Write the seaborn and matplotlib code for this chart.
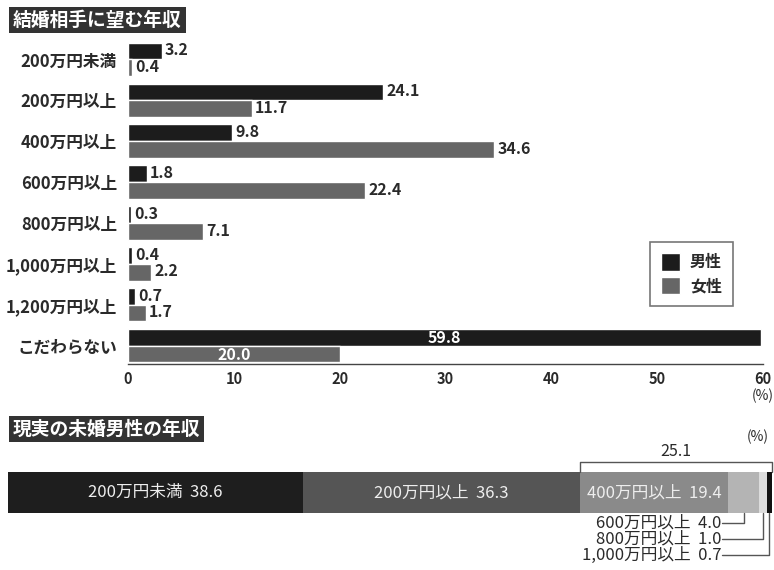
import matplotlib
matplotlib.use("Agg")
import matplotlib.pyplot as plt
import seaborn as sns
import pandas as pd

# ---- data ----
categories = ["200万円未満", "200万円以上", "400万円以上", "600万円以上",
              "800万円以上", "1,000万円以上", "1,200万円以上", "こだわらない"]
male = [3.2, 24.1, 9.8, 1.8, 0.3, 0.4, 0.7, 59.8]
female = [0.4, 11.7, 34.6, 22.4, 7.1, 2.2, 1.7, 20.0]
series_names = ["男性", "女性"]
x_ticks = [0, 10, 20, 30, 40, 50, 60]

real_labels = ["200万円未満", "200万円以上", "400万円以上", "600万円以上", "800万円以上", "1,000万円以上"]
real_values = [38.6, 36.3, 19.4, 4.0, 1.0, 0.7]
bracket_value = 25.1

sns.set_style("white")
plt.rcParams["font.family"] = ["Noto Sans CJK JP", "DejaVu Sans"]

fig = plt.figure(figsize=(7.74, 5.70), dpi=100)
txt = "#2a2a2a"

# ---- top chart ----
ax = fig.add_axes([128 / 774, 1 - 364 / 570, (763 - 128) / 774, (364 - 41) / 570])
df = pd.DataFrame({
    "cat": categories * 2,
    "value": male + female,
    "sex": [series_names[0]] * len(categories) + [series_names[1]] * len(categories),
})
colors = {"男性": "#1c1c1c", "女性": "#666666"}
sns.barplot(data=df, y="cat", x="value", hue="sex", orient="h", palette=colors,
            order=categories, hue_order=series_names, ax=ax, width=0.82, legend=True)
ax.set_xlim(0, 60)
ax.set_ylim(7.45, -0.45)
ax.set_xlabel("")
ax.set_ylabel("")
for s in ["top", "right", "left"]:
    ax.spines[s].set_visible(False)
ax.spines["bottom"].set_color("#444444")
ax.spines["bottom"].set_linewidth(1.0)
ax.set_xticks(x_ticks)
ax.tick_params(axis="x", direction="in", length=5, width=1, color="#444444",
               labelsize=10.5, pad=5, labelcolor=txt)
ax.tick_params(axis="y", length=0, pad=8, labelsize=12)
for lab in ax.get_yticklabels():
    lab.set_fontweight("bold")
    lab.set_color(txt)
for lab in ax.get_xticklabels():
    lab.set_fontweight("bold")
ax.text(60, -0.075, "(%)", transform=ax.get_xaxis_transform(), ha="center", va="top",
        fontsize=10, color=txt)

last = len(categories) - 1
for ci, cont in enumerate(ax.containers):
    vals = male if ci == 0 else female
    for i, p in enumerate(cont.patches):
        v = vals[i]
        yc = p.get_y() + p.get_height() / 2
        if i == last:
            ax.text(v / 2, yc + 0.02, f"{v:.1f}", ha="center", va="center", color="white",
                    fontsize=11.5, fontweight="bold")
        else:
            ax.text(v + 0.3, yc - 0.02, f"{v:.1f}", ha="left", va="center", color=txt,
                    fontsize=11.5, fontweight="bold")

leg = ax.legend(loc="upper right", bbox_to_anchor=(741 / 774, 1 - 234 / 570),
                bbox_transform=fig.transFigure, frameon=True, fancybox=False,
                edgecolor="#555555", handlelength=1.2, handleheight=1.3,
                fontsize=11.5, borderpad=0.7, labelspacing=0.4, handletextpad=0.6)
leg.get_frame().set_linewidth(1.2)
for t in leg.get_texts():
    t.set_fontweight("bold")
    t.set_color(txt)

# ---- titles ----
title_box = dict(boxstyle="square,pad=0.2", facecolor="#333333", edgecolor="none")
fig.text(13 / 774, 1 - 20 / 570, "結婚相手に望む年収", ha="left", va="center", fontsize=13.5,
         color="white", fontweight="bold", bbox=title_box)
fig.text(13 / 774, 1 - 429 / 570, "現実の未婚男性の年収", ha="left", va="center", fontsize=13.5,
         color="white", fontweight="bold", bbox=title_box)

# ---- bottom stacked bar ----
ax2 = fig.add_axes([8 / 774, 0, 764 / 774, 130 / 570])
ax2.set_xlim(0, 100)
ax2.set_ylim(0, 1)
ax2.axis("off")
seg_colors = ["#1e1e1e", "#555555", "#8a8a8a", "#b4b4b4", "#dcdcdc", "#111111"]
bar_bottom, bar_top = (570 - 513) / 130, (570 - 472) / 130
yc = (bar_bottom + bar_top) / 2
left = 0.0
centers = []
for v, c in zip(real_values, seg_colors):
    ax2.barh(yc, v, left=left, height=bar_top - bar_bottom, color=c, edgecolor="none")
    centers.append(left + v / 2)
    left += v
for i in range(3):
    ax2.text(centers[i], yc, f"{real_labels[i]}  {real_values[i]:.1f}", ha="center",
             va="center", color="#eeeeee", fontsize=12)

# bracket
x0 = real_values[0] + real_values[1]
by = (570 - 462) / 130
ax2.plot([x0, x0, 100, 100], [bar_top, by, by, bar_top], color="#555555", lw=1, clip_on=False)
ax2.text((x0 + 100) / 2, (570 - 451) / 130, f"{bracket_value:.1f}", ha="center", va="center",
         fontsize=11.5, color=txt)
ax2.text(98.2, (570 - 437) / 130, "(%)", ha="center", va="center", fontsize=10, color=txt)

# leader lines
ys = [(570 - 523) / 130, (570 - 539) / 130, (570 - 555) / 130]
x_end = (722 - 8) / 7.64
for k, idx in enumerate([3, 4, 5]):
    ax2.plot([centers[idx], centers[idx], x_end], [bar_bottom, ys[k], ys[k]],
             color="#555555", lw=1, clip_on=False)
    ax2.text(x_end - 0.1, ys[k], f"{real_labels[idx]}  {real_values[idx]:.1f}", ha="right",
             va="center", fontsize=12, color=txt)

fig.savefig("out.png", dpi=100)
